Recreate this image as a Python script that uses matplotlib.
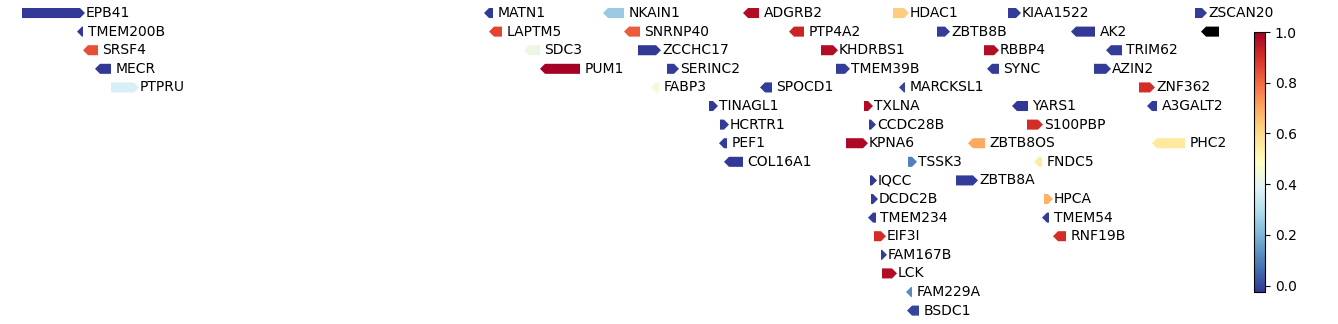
import matplotlib

matplotlib.use('agg')
import matplotlib.pyplot as plt
from matplotlib.patches import Polygon
import numpy as np

# gene name, start, end, strand, score, track row
genes = ['EPB41', 'MATN1', 'NKAIN1', 'ADGRB2', 'HDAC1', 'KIAA1522', 'ZSCAN20',
         'TMEM200B', 'LAPTM5', 'SNRNP40', 'PTP4A2', 'ZBTB8B', 'AK2', '',
         'SRSF4', 'SDC3', 'ZCCHC17', 'KHDRBS1', 'RBBP4', 'TRIM62',
         'MECR', 'PUM1', 'SERINC2', 'TMEM39B', 'SYNC', 'AZIN2',
         'PTPRU', 'FABP3', 'SPOCD1', 'MARCKSL1', 'ZNF362',
         'TINAGL1', 'TXLNA', 'YARS1', 'A3GALT2',
         'HCRTR1', 'CCDC28B', 'S100PBP',
         'PEF1', 'KPNA6', 'ZBTB8OS', 'PHC2',
         'COL16A1', 'TSSK3', 'FNDC5',
         'IQCC', 'ZBTB8A',
         'DCDC2B', 'HPCA',
         'TMEM234', 'TMEM54',
         'EIF3I', 'RNF19B',
         'FAM167B', 'LCK', 'FAM229A', 'BSDC1']
starts = [22, 484, 603, 743, 893, 1008, 1195,
          77, 489, 624, 789, 937, 1071, 1201,
          83, 524, 638, 821, 984, 1106,
          95, 540, 667, 836, 987, 1094,
          111, 651, 760, 899, 1139,
          709, 864, 1012, 1147,
          720, 869, 1027,
          719, 846, 968, 1152,
          724, 908, 1034,
          870, 956,
          871, 1044,
          868, 1042,
          874, 1053,
          881, 882, 906, 907]
ends = [85, 493, 624, 759, 909, 1021, 1207,
        83, 502, 640, 804, 950, 1095, 1219,
        98, 540, 661, 838, 999, 1122,
        111, 580, 679, 850, 999, 1111,
        139, 659, 772, 905, 1155,
        718, 873, 1028, 1157,
        729, 876, 1043,
        727, 868, 985, 1185,
        743, 917, 1042,
        877, 978,
        878, 1053,
        876, 1049,
        886, 1066,
        887, 897, 912, 919]
strands = [1, -1, -1, -1, 1, 1, 1,
           -1, -1, -1, -1, 1, -1, -1,
           -1, -1, 1, 1, 1, -1,
           -1, -1, 1, 1, -1, 1,
           1, -1, -1, -1, 1,
           1, 1, -1, -1,
           1, 1, 1,
           -1, 1, -1, -1,
           -1, 1, -1,
           1, 1,
           1, 1,
           -1, -1,
           1, -1,
           1, 1, -1, -1]
scores = [-0.02, -0.02, 0.25, 0.97, 0.63, -0.01, -0.01,
          -0.02, 0.86, 0.82, 0.92, -0.01, -0.02, np.nan,
          0.84, 0.42, -0.02, 0.97, 0.97, -0.01,
          -0.02, 1.0, -0.01, -0.01, -0.01, -0.01,
          0.37, 0.45, -0.01, 0.0, 0.9,
          -0.02, 0.97, -0.02, -0.01,
          -0.01, -0.01, 0.9,
          -0.01, 0.98, 0.7, 0.56,
          -0.02, 0.1, 0.55,
          -0.02, -0.01,
          -0.01, 0.68,
          -0.01, -0.01,
          0.9, 0.9,
          -0.01, 0.97, 0.12, 0.0]
rows = [0] * 7 + [1] * 7 + [2] * 6 + [3] * 6 + [4] * 5 + [5] * 4 + [6] * 3 + \
       [7] * 4 + [8] * 3 + [9] * 2 + [10] * 2 + [11] * 2 + [12] * 2 + [13, 14, 15, 16]

cmap = plt.get_cmap('RdYlBu_r').copy()
cmap.set_bad('black')
norm = matplotlib.colors.Normalize(vmin=-0.025, vmax=1.0)

fig = plt.figure(figsize=(13.38, 3.24), dpi=100)
ax = fig.add_axes([0, 0, 1, 1])
ax.set_xlim(0, 1338)
ax.set_ylim(16.72, -0.70)
ax.axis('off')

h = 0.27
for name, s, e, st, sc, r in zip(genes, starts, ends, strands, scores, rows):
    hl = min(5, e - s)
    if st == 1:
        pts = [(s, r - h), (e - hl, r - h), (e, r), (e - hl, r + h), (s, r + h)]
        tx = e + 1
    else:
        pts = [(e, r - h), (s + hl, r - h), (s, r), (s + hl, r + h), (e, r + h)]
        tx = e + 4.5
    color = cmap(norm(sc)) if not np.isnan(sc) else 'black'
    ax.add_patch(Polygon(pts, closed=True, facecolor=color, edgecolor='none'))
    if name:
        ax.text(tx, r, name, fontsize=10, ha='left', va='center')

cax = fig.add_axes([1254 / 1338, 32 / 324, 11 / 1338, 260 / 324])
sm = matplotlib.cm.ScalarMappable(norm=norm, cmap=cmap)
cb = fig.colorbar(sm, cax=cax, ticks=[0.0, 0.2, 0.4, 0.6, 0.8, 1.0])
cb.ax.tick_params(labelsize=10)

plt.savefig('out.png', dpi=100)
